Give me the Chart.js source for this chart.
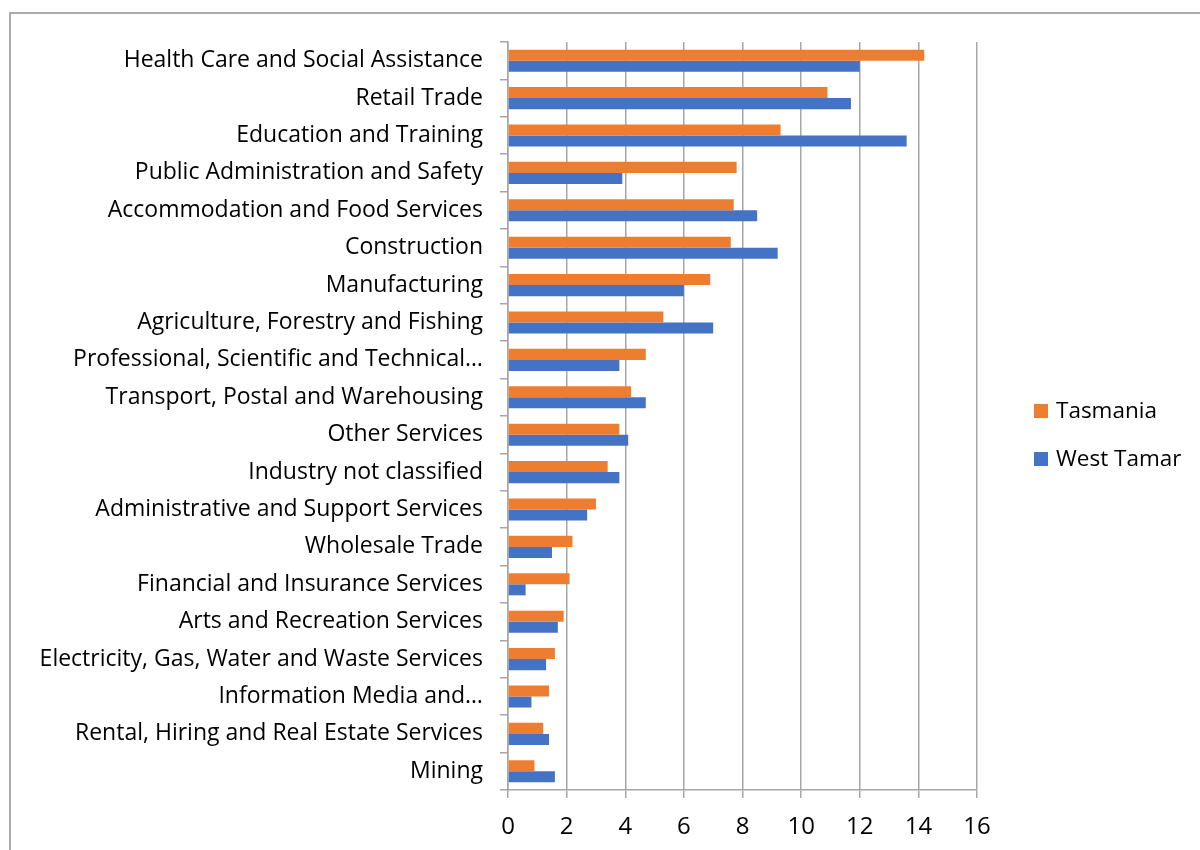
<!DOCTYPE html>
<html>
<head>
<meta charset="utf-8">
<script src="https://cdn.jsdelivr.net/npm/chart.js@4/dist/chart.umd.min.js"></script>
<style>
html,body{margin:0;padding:0;background:#fff;}
#wrap{width:1200px;height:850px;position:relative;}
</style>
</head>
<body>
<div id="wrap"><canvas id="c" width="1200" height="850"></canvas></div>
<script>
const categories = [
  "Health Care and Social Assistance",
  "Retail Trade",
  "Education and Training",
  "Public Administration and Safety",
  "Accommodation and Food Services",
  "Construction",
  "Manufacturing",
  "Agriculture, Forestry and Fishing",
  "Professional, Scientific and Technical\u2026",
  "Transport, Postal and Warehousing",
  "Other Services",
  "Industry not classified",
  "Administrative and Support Services",
  "Wholesale Trade",
  "Financial and Insurance Services",
  "Arts and Recreation Services",
  "Electricity, Gas, Water and Waste Services",
  "Information Media and\u2026",
  "Rental, Hiring and Real Estate Services",
  "Mining"
];
const tasmania = [14.2, 10.9, 9.3, 7.8, 7.7, 7.6, 6.9, 5.3, 4.7, 4.2, 3.8, 3.4, 3.0, 2.2, 2.1, 1.9, 1.6, 1.4, 1.2, 0.9];
const westTamar = [12.0, 11.7, 13.6, 3.9, 8.5, 9.2, 6.0, 7.0, 3.8, 4.7, 4.1, 3.8, 2.7, 1.5, 0.6, 1.7, 1.3, 0.8, 1.4, 1.6];
const seriesNames = ["Tasmania", "West Tamar"];
const xTicks = [0, 2, 4, 6, 8, 10, 12, 14, 16];

const FONT = "Open Sans";
const GRID = "#A6A6A6";

const framePlugin = {
  id: 'frame',
  beforeDraw(chart) {
    const ctx = chart.ctx;
    ctx.save();
    ctx.fillStyle = '#fff';
    ctx.fillRect(0, 0, chart.width, chart.height);
    ctx.strokeStyle = '#ABABAB';
    ctx.lineWidth = 2;
    ctx.beginPath();
    ctx.moveTo(10, 850);
    ctx.lineTo(10, 13);
    ctx.lineTo(1200, 13);
    ctx.stroke();
    ctx.restore();
  },
  afterDraw(chart) {
    const ctx = chart.ctx;
    ctx.save();
    const x0 = 1034, ys = [411, 459];
    chart.data.datasets.forEach((ds, i) => {
      ctx.fillStyle = ds.backgroundColor;
      ctx.fillRect(x0, ys[i] - 7, 14, 14);
      ctx.fillStyle = '#000';
      ctx.font = `22.5px "${FONT}"`;
      ctx.textBaseline = 'middle';
      ctx.textAlign = 'left';
      ctx.fillText(ds.label, x0 + 22, ys[i] + 1);
    });
    ctx.restore();
  }
};

new Chart(document.getElementById('c'), {
  type: 'bar',
  data: {
    labels: categories,
    datasets: [
      { label: seriesNames[0], data: tasmania, backgroundColor: '#ED7D31', barPercentage: 1, categoryPercentage: 0.59 },
      { label: seriesNames[1], data: westTamar, backgroundColor: '#4472C4', barPercentage: 1, categoryPercentage: 0.59 }
    ]
  },
  options: {
    indexAxis: 'y',
    responsive: false,
    animation: false,
    layout: { padding: { left: 0, right: 223, top: 42, bottom: 0 } },
    plugins: { legend: { display: false }, tooltip: { enabled: false } },
    scales: {
      x: {
        min: 0, max: 16,
        afterBuildTicks(scale) { scale.ticks = xTicks.map(v => ({ value: v })); },
        afterFit(scale) { scale.height = 60; },
        ticks: { color: '#000', font: { family: FONT, size: 24 }, padding: 15 },
        grid: { color: GRID, lineWidth: 1.5, tickLength: 8, drawTicks: true },
        border: { color: GRID, width: 1.5 }
      },
      y: {
        afterFit(scale) { scale.width = 508; },
        ticks: { color: '#000', font: { family: FONT, size: 23 }, padding: 17, autoSkip: false },
        grid: { drawOnChartArea: false, color: GRID, lineWidth: 1.5, tickLength: 8, offset: true },
        border: { color: GRID, width: 1.5 }
      }
    }
  },
  plugins: [framePlugin]
});
</script>
</body>
</html>
